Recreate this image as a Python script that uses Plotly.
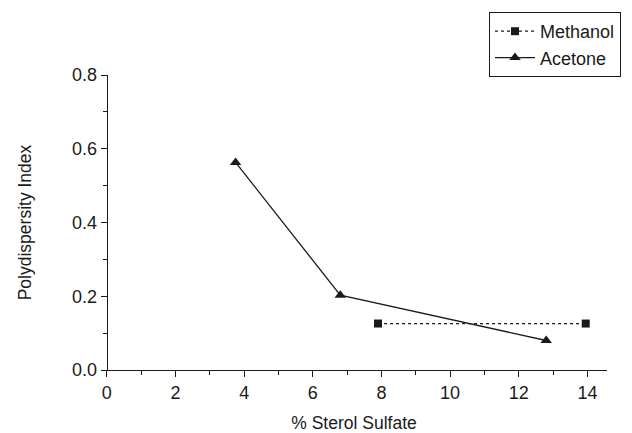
import plotly.graph_objects as go

methanol_x = [7.9, 13.95]
methanol_y = [0.126, 0.126]
acetone_x = [3.75, 6.8, 12.8]
acetone_y = [0.563, 0.203, 0.08]

x_ticks = [0, 2, 4, 6, 8, 10, 12, 14]
y_ticks = [0.0, 0.2, 0.4, 0.6, 0.8]

xr = [-0.17, 14.57]
ink = "#1a1a1a"
font = "Liberation Sans, Arial, sans-serif"

L, R, T, B = 101, 25, 75, 63
W, H = 632, 433
pw, ph = W - L - R, H - T - B

fig = go.Figure()
fig.add_trace(go.Scatter(
    x=methanol_x, y=methanol_y, name="Methanol", mode="lines+markers",
    line=dict(color=ink, width=1.3, dash="dot"),
    marker=dict(symbol="square", size=8, color=ink),
))
fig.add_trace(go.Scatter(
    x=acetone_x, y=acetone_y, name="Acetone", mode="lines+markers",
    line=dict(color=ink, width=1.3),
    marker=dict(symbol="triangle-up", size=10, color=ink),
))

fig.update_layout(
    width=W, height=H,
    margin=dict(l=L, r=R, t=T, b=B, autoexpand=False),
    plot_bgcolor="white", paper_bgcolor="white",
    font=dict(family=font, color=ink, size=18),
    showlegend=True,
    legend=dict(
        x=(489 - L) / pw, y=(H - B - 12) / ph, xanchor="left", yanchor="top",
        bordercolor=ink, borderwidth=1, bgcolor="white",
        font=dict(size=18, family=font), tracegroupgap=0,
        itemwidth=40, entrywidth=150, entrywidthmode="pixels",
    ),
    xaxis=dict(
        range=xr, tickvals=x_ticks, ticktext=[str(v) for v in x_ticks],
        showline=True, linecolor=ink, linewidth=1.2, showgrid=False, zeroline=False,
        ticks="outside", ticklen=6, tickcolor=ink, tickwidth=1.2,
        minor=dict(dtick=1, tick0=1, ticks="outside", ticklen=4, tickcolor=ink, tickwidth=1.2),
        title=dict(text="% Sterol Sulfate", font=dict(size=17.5), standoff=20),
        tickfont=dict(size=18),
    ),
    yaxis=dict(
        range=[0, 0.8], tickvals=y_ticks, ticktext=[f"{v:.1f}" for v in y_ticks],
        anchor="free", position=(0 - xr[0]) / (xr[1] - xr[0]),
        showline=True, linecolor=ink, linewidth=1.2, showgrid=False, zeroline=False,
        ticks="outside", ticklen=6, tickcolor=ink, tickwidth=1.2,
        minor=dict(dtick=0.1, ticks="outside", ticklen=4, tickcolor=ink, tickwidth=1.2),
        title=dict(text="Polydispersity Index", font=dict(size=17.5), standoff=34),
        tickfont=dict(size=18),
    ),
)

fig.write_html("out.html")
